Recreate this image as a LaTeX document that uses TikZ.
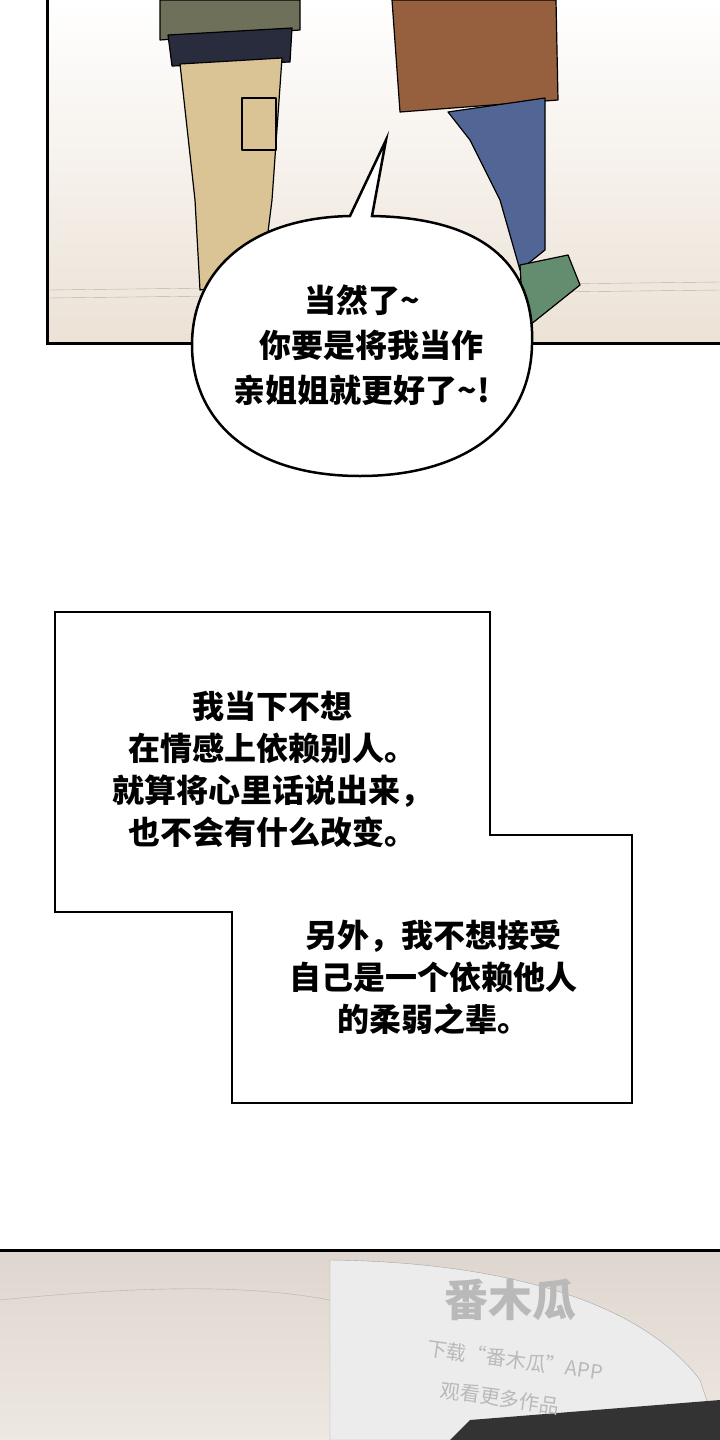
\documentclass[tikz,border=0pt]{standalone}
\usepackage{fontspec}
\newfontfamily\cjk{Noto Sans CJK SC}
\begin{document}
\begin{tikzpicture}[x=1pt,y=-1pt,
panelline/.style={line width=3pt, draw=black},
inkline/.style={line width=1.2pt, draw=black, line join=round},
speech/.style={font=\cjk\bfseries\fontsize{32}{45}\selectfont, align=center},
caption/.style={font=\cjk\bfseries\fontsize{32}{42}\selectfont, align=center}
]
\useasboundingbox (0,0) rectangle (720,1440);
\fill[white] (0,0) rectangle (720,1440);

% top panel
\shade[top color=white, bottom color={rgb,255:red,236;green,226;blue,214}] (47,0) rectangle (720,343);
\draw[gray!60] (47,290) -- (720,282);
\draw[gray!60] (47,298) -- (720,290);
% left figure
\fill[inkline, fill={rgb,255:red,110;green,112;blue,90}] (160,0) -- (300,0) -- (300,30) -- (160,40) -- cycle;
\fill[inkline, fill={rgb,255:red,40;green,44;blue,60}] (168,35) -- (292,28) -- (290,62) -- (172,66) -- cycle;
\fill[inkline, fill={rgb,255:red,218;green,196;blue,150}] (180,64) -- (282,58) -- (272,200) -- (262,280) -- (200,290) -- (195,200) -- cycle;
\draw[inkline] (242,98) rectangle (276,150);
% right figure
\fill[inkline, fill={rgb,255:red,150;green,96;blue,62}] (392,0) -- (556,0) -- (558,100) -- (400,112) -- cycle;
\fill[inkline, fill={rgb,255:red,82;green,102;blue,150}] (448,112) -- (545,98) -- (545,250) -- (520,270) -- (500,200) -- (470,140) -- cycle;
\fill[inkline, fill={rgb,255:red,100;green,140;blue,110}] (520,265) -- (568,255) -- (580,285) -- (530,325) -- (522,300) -- cycle;
\draw[panelline] (47,0) -- (47,343) -- (720,343);

% speech bubble
\coordinate (tailtip) at (386,140);
\fill[white, draw=black, line width=2.5pt] (350,216) -- (tailtip) -- (372,216)
  .. controls (490,218) and (535,270) .. (532,345)
  .. controls (530,430) and (460,476) .. (360,476)
  .. controls (250,476) and (192,420) .. (192,345)
  .. controls (192,270) and (250,218) .. (350,216) -- cycle;
\node[speech] (bubble) at (362,345) {当然了\textasciitilde\\\hspace*{0.6em}你要是将我当作\\亲姐姐就更好了\textasciitilde!};

% caption box
\draw[line width=1.5pt] (55,612) -- (490,612) -- (490,835) -- (632,835) -- (632,1103)
  -- (232,1103) -- (232,912) -- (55,912) -- cycle;
\node[caption] (capa) at (272,769) {我当下不想\\在情感上依赖别人。\\就算将心里话说出来，\\也不会有什么改变。};
\node[caption] (capb) at (433,977) {另外，我不想接受\\自己是一个依赖他人\\的柔弱之辈。};

% bottom panel
\shade[top color={rgb,255:red,222;green,214;blue,206}, bottom color={rgb,255:red,238;green,232;blue,226}] (0,1250) rectangle (720,1440);
\fill[gray!15, draw=gray!70] (330,1260) .. controls (500,1262) and (640,1300) .. (700,1380) -- (720,1440) -- (330,1440) -- cycle;
\draw[gray!60] (0,1300) .. controls (150,1285) and (250,1285) .. (330,1300);
\fill[black!80] (470,1420) -- (720,1400) -- (720,1440) -- (450,1440) -- cycle;
\draw[panelline] (0,1250) -- (720,1250);
\node[font=\cjk\bfseries\fontsize{44}{44}\selectfont, text=gray!55] (mark) at (510,1300) {番木瓜};
\node[font=\cjk\fontsize{20}{20}\selectfont, text=gray!55, rotate=-8] (marktop) at (515,1360) {下载“番木瓜”APP};
\node[font=\cjk\fontsize{20}{20}\selectfont, text=gray!55, rotate=-8] (markbottom) at (500,1398) {观看更多作品};
\end{tikzpicture}
\end{document}
